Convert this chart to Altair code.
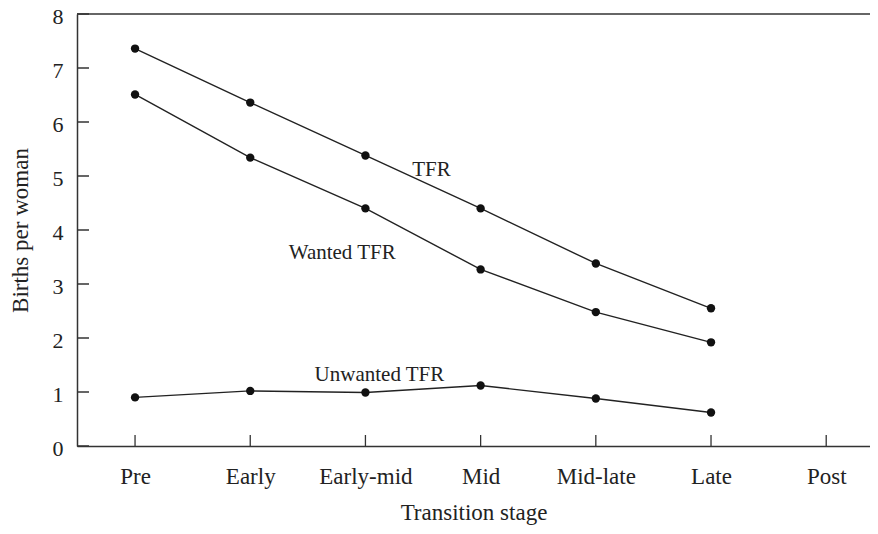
import altair as alt
import pandas as pd

categories = ["Pre", "Early", "Early-mid", "Mid", "Mid-late", "Late", "Post"]
data_stages = ["Pre", "Early", "Early-mid", "Mid", "Mid-late", "Late"]
tfr = [7.36, 6.36, 5.38, 4.40, 3.38, 2.55]
wanted = [6.51, 5.34, 4.40, 3.27, 2.48, 1.92]
unwanted = [0.90, 1.02, 0.99, 1.12, 0.88, 0.62]
y_ticks = [0, 1, 2, 3, 4, 5, 6, 7, 8]

rows = []
for name, vals in [("TFR", tfr), ("Wanted TFR", wanted), ("Unwanted TFR", unwanted)]:
    for s, v in zip(data_stages, vals):
        rows.append({"stage": s, "value": v, "series": name})
df = pd.DataFrame(rows)
df_cat = pd.DataFrame({"stage": categories})
df_yt = pd.DataFrame({"value": y_ticks})
df_top = pd.DataFrame({"value": [8]})

FONT = "Liberation Serif"
INK = "#222222"
LINE = "#333333"

xscale = alt.Scale(type="point", domain=categories, padding=0.442, align=0.57, round=False)
yscale = alt.Scale(domain=[0, 8], nice=False)

x_axis = alt.Axis(title="Transition stage", labelAngle=0, labelAlign="center",
                  labelBaseline="top", ticks=False, labelFontSize=23,
                  labelPadding=19, titlePadding=13, titleFontSize=23, grid=False)
y_axis = alt.Axis(title="Births per woman", values=y_ticks, ticks=False,
                  labelFontSize=22, labelOffset=2,
                  labelPadding=14, titlePadding=20, titleFontSize=23, grid=False)

X = alt.X("stage:O", scale=xscale, sort=categories, axis=x_axis)
Y = alt.Y("value:Q", scale=yscale, axis=y_axis)

lines = alt.Chart(df).mark_line(
    color=INK, strokeWidth=1.4,
    point=alt.OverlayMarkDef(filled=True, size=70, color="#111111", opacity=1),
).encode(x=X, y=Y, detail="series:N")

top_rule = alt.Chart(df_top).mark_rule(color=LINE, strokeWidth=1.5).encode(y=Y)

ytick_rules = alt.Chart(df_yt).mark_rule(color=LINE, strokeWidth=1.5).encode(
    y=Y, x=alt.value(0), x2=alt.value(12)
)

xtick_rules = alt.Chart(df_cat).mark_rule(color=LINE, strokeWidth=1.3).encode(
    x=X, y=alt.value(432), y2=alt.value(421)
)

lbl_style = dict(font=FONT, fontSize=21, color=INK, align="center", baseline="alphabetic")


def label(stage, value, text, dx):
    d = pd.DataFrame({"stage": [stage], "value": [value], "t": [text]})
    return alt.Chart(d).mark_text(dx=dx, **lbl_style).encode(x=X, y=Y, text="t:N")


lbl_tfr = label("Early-mid", 5.0, "TFR", 66)
lbl_w = label("Early", 3.46, "Wanted TFR", 92)
lbl_u = label("Early-mid", 1.20, "Unwanted TFR", 14)

chart = alt.layer(
    lines, top_rule, ytick_rules, xtick_rules, lbl_tfr, lbl_w, lbl_u
).properties(
    width=793, height=432,
    background="white",
    autosize=alt.AutoSizeParams(type="none"),
    padding={"left": 69, "top": 6, "right": 0, "bottom": 80},
).configure_view(stroke=None).configure_axis(
    domainColor=LINE, domainWidth=1.5, grid=False,
    labelFont=FONT, labelColor=INK,
    titleFont=FONT, titleFontWeight="normal", titleColor=INK,
)

chart.save("out.html", embed_options={"renderer": "svg", "actions": False})
